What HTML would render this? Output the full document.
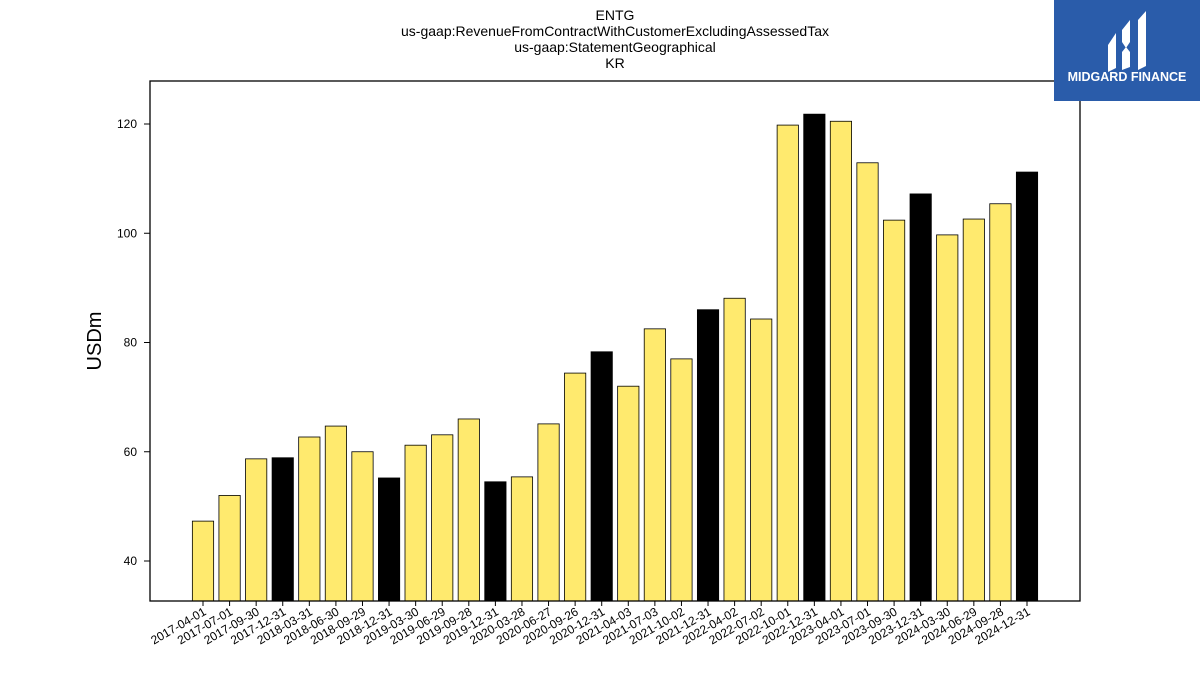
<!DOCTYPE html>
<html><head><meta charset="utf-8"><style>
body{margin:0;background:#fff;width:1200px;height:675px;overflow:hidden;font-family:"Liberation Sans","DejaVu Sans",sans-serif;}
</style></head><body>
<svg id="chart" width="1200" height="675" xmlns="http://www.w3.org/2000/svg">
<g font-size="14" text-anchor="middle" fill="#000">
<text x="615" y="20">ENTG</text>
<text x="615" y="36">us-gaap:RevenueFromContractWithCustomerExcludingAssessedTax</text>
<text x="615" y="52">us-gaap:StatementGeographical</text>
<text x="615" y="68">KR</text>
</g>
<text x="101" y="341" font-size="20" text-anchor="middle" transform="rotate(-90 101 341)">USDm</text>
<g id="bars"></g>
<g id="yticks"></g>
<g id="xticks"></g>
<rect x="150" y="81" width="930" height="520" fill="none" stroke="#000" stroke-width="1.3"/>
<g>
<rect x="1054" y="0" width="146" height="101" fill="#2a5caa"/>
<path d="M1108 45 L1116 33 L1116 68 L1108 72 Z M1122 30 L1130 20 L1130 42 L1126 48 L1122 42 Z M1122 52 L1126 47 L1130 52 L1130 67 L1122 70 Z M1138 20 L1146 11 L1146 66 L1138 70 Z" fill="#fff"/>
<text x="1127" y="81" font-size="12.5" font-weight="bold" fill="#fff" text-anchor="middle">MIDGARD FINANCE</text>
</g>
</svg>
<script>
const categories=["2017-04-01","2017-07-01","2017-09-30","2017-12-31","2018-03-31","2018-06-30","2018-09-29","2018-12-31","2019-03-30","2019-06-29","2019-09-28","2019-12-31","2020-03-28","2020-06-27","2020-09-26","2020-12-31","2021-04-03","2021-07-03","2021-10-02","2021-12-31","2022-04-02","2022-07-02","2022-10-01","2022-12-31","2023-04-01","2023-07-01","2023-09-30","2023-12-31","2024-03-30","2024-06-29","2024-09-28","2024-12-31"];
const values=[47.3,52,58.7,58.9,62.7,64.7,60,55.2,61.2,63.1,66,54.5,55.4,65.1,74.4,78.3,72,82.5,77,86,88.1,84.3,119.8,121.8,120.5,112.9,102.4,107.2,99.7,102.6,105.4,111.2];
const yTicks=[40,60,80,100,120];
const NS="http://www.w3.org/2000/svg";
function y(v){return 561-(v-40)*5.4625;}
function x(i){return 203+i*(1027-203)/(categories.length-1);}
const bw=21.3;
const bars=document.getElementById('bars'),yt=document.getElementById('yticks'),xt=document.getElementById('xticks');
values.forEach((v,i)=>{
 const r=document.createElementNS(NS,'rect');
 
 
 r.setAttribute('x',x(i)-bw/2);r.setAttribute('width',bw);
 r.setAttribute('y',y(v));r.setAttribute('height',601-y(v));
 const q4=categories[i].endsWith('12-31');
 r.setAttribute('fill',q4?'#000':'#ffea6e');r.setAttribute('stroke','#000');r.setAttribute('stroke-width','0.8');
 bars.appendChild(r);
 const t=document.createElementNS(NS,'line');
 
 
 t.setAttribute('x1',x(i));t.setAttribute('x2',x(i));t.setAttribute('y1',601);t.setAttribute('y2',606);t.setAttribute('stroke','#000');
 xt.appendChild(t);
 const l=document.createElementNS(NS,'text');
 
 
 l.setAttribute('font-size','12');l.setAttribute('text-anchor','end');
 l.setAttribute('transform','translate('+(x(i)+4)+',614) rotate(-30)');
 l.textContent=categories[i];xt.appendChild(l);
});
yTicks.forEach(v=>{
 const t=document.createElementNS(NS,'line');
 
 
 t.setAttribute('x1',144);t.setAttribute('x2',150);t.setAttribute('y1',y(v));t.setAttribute('y2',y(v));t.setAttribute('stroke','#000');
 yt.appendChild(t);
 const l=document.createElementNS(NS,'text');
 
 
 l.setAttribute('font-size','12');l.setAttribute('text-anchor','end');
 l.setAttribute('x',137);l.setAttribute('y',y(v)+4);l.textContent=v;yt.appendChild(l);
});
</script>
</body></html>
